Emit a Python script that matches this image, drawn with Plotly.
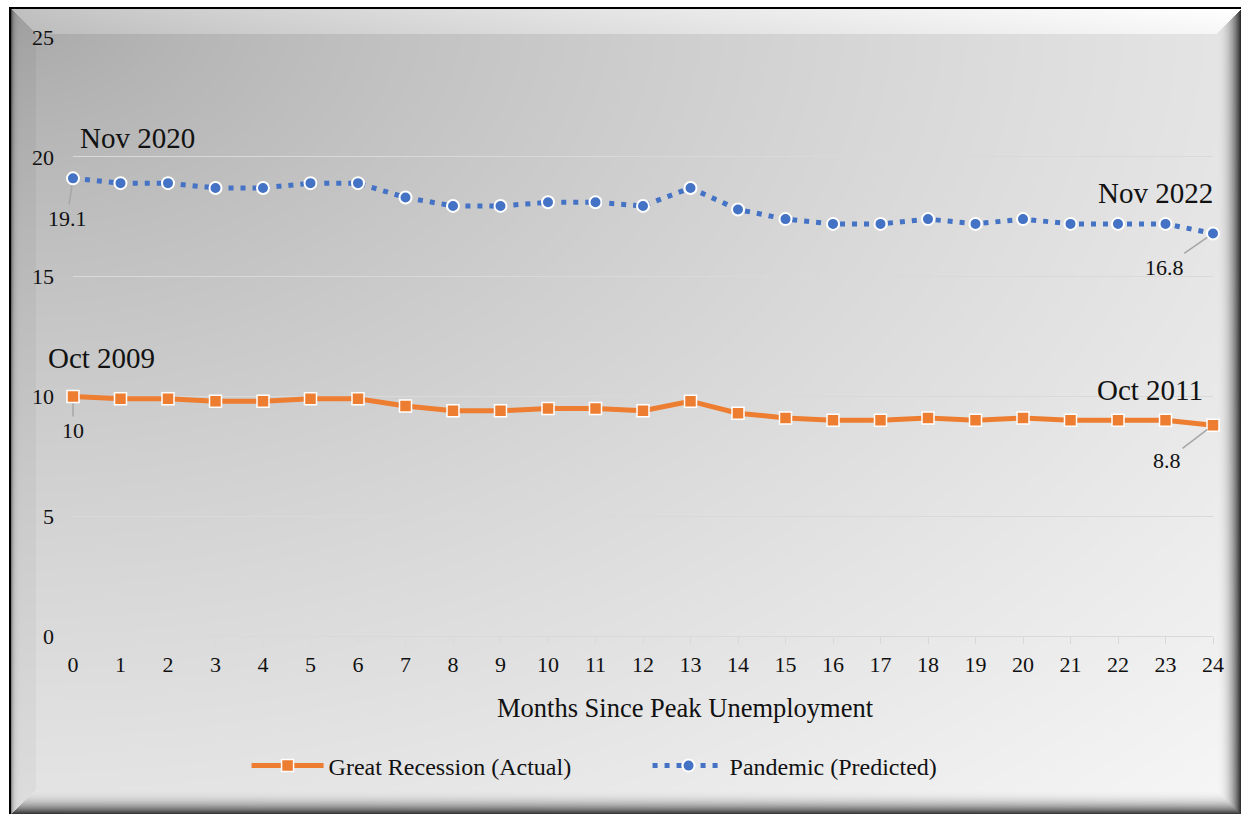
import base64
import struct
import zlib

import numpy as np
import plotly.graph_objects as go

# ---- data ---------------------------------------------------------------
months = list(range(25))
great_recession = [10.0, 9.9, 9.9, 9.8, 9.8, 9.9, 9.9, 9.6, 9.4, 9.4, 9.5, 9.5, 9.4,
                   9.8, 9.3, 9.1, 9.0, 9.0, 9.1, 9.0, 9.1, 9.0, 9.0, 9.0, 8.8]
pandemic = [19.1, 18.9, 18.9, 18.7, 18.7, 18.9, 18.9, 18.3, 17.95, 17.95, 18.1, 18.1, 17.95,
            18.7, 17.8, 17.4, 17.2, 17.2, 17.4, 17.2, 17.4, 17.2, 17.2, 17.2, 16.8]
y_ticks = [0, 5, 10, 15, 20, 25]
series_names = ["Great Recession (Actual)", "Pandemic (Predicted)"]
period_labels = {"pandemic": ("Nov 2020", "Nov 2022"), "recession": ("Oct 2009", "Oct 2011")}
x_title = "Months Since Peak Unemployment"

ORANGE = "#ED7D31"
BLUE = "#4472C4"
FONT = "Liberation Serif, Times New Roman, serif"

# ---- figure geometry (pixels) -------------------------------------------
W, H = 1241, 814
L, R, T, B = 73, 28, 37, 178
plot_w, plot_h = W - L - R, H - T - B


# ---- bevelled gradient backdrop, encoded as a grayscale PNG ---------------
def png_gray(arr):
    h, w = arr.shape
    raw = b"".join(b"\x00" + arr[i].tobytes() for i in range(h))

    def chunk(tag, data):
        c = struct.pack(">I", len(data)) + tag + data
        return c + struct.pack(">I", zlib.crc32(tag + data) & 0xFFFFFFFF)

    return (b"\x89PNG\r\n\x1a\n"
            + chunk(b"IHDR", struct.pack(">IIBBBBB", w, h, 8, 0, 0, 0, 0))
            + chunk(b"IDAT", zlib.compress(raw, 9))
            + chunk(b"IEND", b""))


bx0, by0 = 9, 7
bw, bh = W - bx0, H - by0
yy, xx = np.mgrid[0:bh, 0:bw].astype(float)
t = np.sqrt((xx / bw) ** 2 + (yy / bh) ** 2) / np.sqrt(2)
base = 165 + 82 * t ** 0.7
img = base.copy()

bev = 25.0
dl, dt = xx - 2, yy - 2
dr, db = bw - 1 - xx, bh - 1 - yy
d = np.stack([dl, dt, dr, db])
side = d.argmin(axis=0)
m = d.min(axis=0)
inb = m < bev
f = np.clip((bev - m) / bev, 0, 1)

left = inb & (side == 0)
top = inb & (side == 1)
right = inb & (side == 2)
bottom = inb & (side == 3)
img[left] = base[left] - 8 - 80 * np.exp(-dl[left] / 2.0)
img[top] = base[top] + 26 - 8 * (dt[top] / bev)
img[right] = base[right] * (1 - 0.8 * f[right] ** 2.5)
img[bottom] = base[bottom] * (1 - 0.75 * f[bottom] ** 2.5)
img[:, 0:2] = 0
img[0:2, :] = 0
img = np.clip(img, 0, 255).astype(np.uint8)
backdrop = "data:image/png;base64," + base64.b64encode(png_gray(img)).decode()

# ---- traces --------------------------------------------------------------
fig = go.Figure()
fig.add_trace(go.Scatter(
    x=months, y=great_recession, name=series_names[0], mode="lines+markers",
    line=dict(color=ORANGE, width=5),
    marker=dict(symbol="square", size=12, color=ORANGE, line=dict(color="white", width=1.5)),
    cliponaxis=False,
))
fig.add_trace(go.Scatter(
    x=months, y=pandemic, name=series_names[1], mode="lines+markers",
    line=dict(color=BLUE, width=5, dash="5px,7px"),
    marker=dict(symbol="circle", size=12, color=BLUE, line=dict(color="white", width=2)),
    cliponaxis=False,
))

# ---- value labels with leader lines --------------------------------------
def value_label(x, y, ax, ay):
    fig.add_annotation(
        x=x, y=y, text=f"{y:g}", showarrow=True, arrowhead=0, arrowwidth=1.5,
        arrowcolor="#a6a6a6", standoff=7, ax=ax, ay=ay,
        font=dict(family=FONT, size=22, color="#111111"),
    )


value_label(months[0], pandemic[0], -6, 40)
value_label(months[-1], pandemic[-1], -49, 34)
value_label(months[0], great_recession[0], 0, 34)
value_label(months[-1], great_recession[-1], -46, 35)

# ---- period labels --------------------------------------------------------
def period_label(x, y, text, anchor, shift):
    fig.add_annotation(
        x=x, y=y, text=text, showarrow=False, xanchor=anchor, yanchor="middle",
        xshift=shift, font=dict(family=FONT, size=29, color="#111111"),
    )


period_label(months[0], 20.8, period_labels["pandemic"][0], "left", 5)
period_label(months[-1], 18.5, period_labels["pandemic"][1], "right", 2)
period_label(months[0], 11.6, period_labels["recession"][0], "left", -27)
period_label(months[-1], 10.25, period_labels["recession"][1], "right", -8)

# ---- x-axis title (sits right of the plot centre) -------------------------
fig.add_annotation(
    text=x_title, xref="paper", yref="paper", x=(685 - L) / plot_w,
    y=(T + plot_h - 708) / plot_h, xanchor="center", yanchor="middle",
    showarrow=False, font=dict(family=FONT, size=26.5, color="#111111"),
)

# ---- layout --------------------------------------------------------------
fig.update_layout(
    width=W, height=H,
    margin=dict(l=L, r=R, t=T, b=B, pad=0),
    paper_bgcolor="white",
    plot_bgcolor="rgba(0,0,0,0)",
    font=dict(family=FONT, color="#111111"),
    showlegend=True,
    legend=dict(
        orientation="h", x=0.504, xanchor="center", y=(T + plot_h - 766) / plot_h,
        yanchor="middle", font=dict(family=FONT, size=24, color="#111111"),
        itemwidth=72, entrywidth=314, bgcolor="rgba(0,0,0,0)",
    ),
    xaxis=dict(
        range=[0, 24], tickmode="array", tickvals=months, ticktext=[str(m) for m in months],
        showgrid=False, zeroline=False, showline=True, linecolor="#d9d9d9", linewidth=1.3,
        ticks="outside", ticklen=7, tickcolor="#d9d9d9", tickwidth=1.3,
        tickfont=dict(family=FONT, size=22, color="#111111"), ticklabelstandoff=1,
    ),
    yaxis=dict(
        range=[0, 25], tickmode="array", tickvals=y_ticks,
        showgrid=True, gridcolor="#d9d9d9", gridwidth=1.3, zeroline=False,
        showline=False, ticks="", ticklabelstandoff=18,
        tickfont=dict(family=FONT, size=22, color="#111111"),
    ),
    images=[dict(
        source=backdrop, xref="paper", yref="paper",
        x=(bx0 - L) / plot_w, y=(T + plot_h - by0) / plot_h,
        sizex=bw / plot_w, sizey=bh / plot_h,
        xanchor="left", yanchor="top", sizing="stretch", layer="below",
    )],
)

fig.write_html("out.html")
